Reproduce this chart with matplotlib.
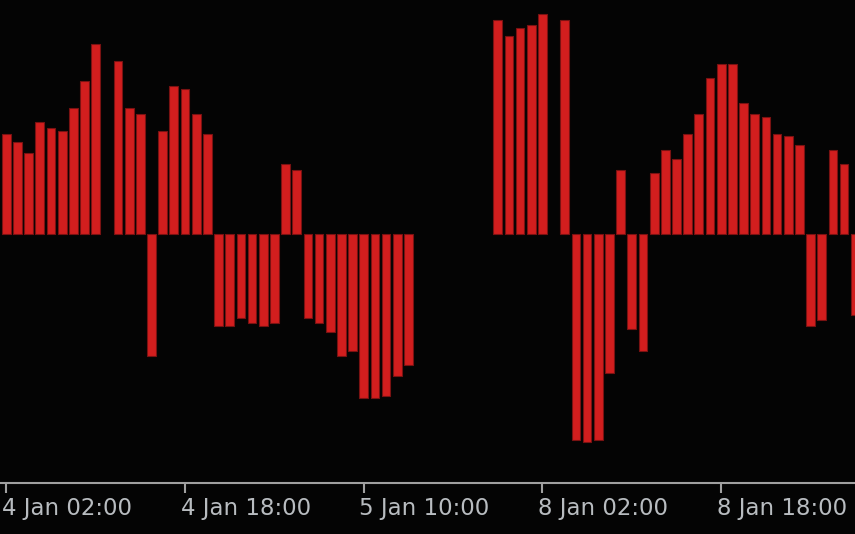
#!/usr/bin/env python3
"""Histogram-style oscillator bars on a dark terminal chart."""

import matplotlib

matplotlib.use("Agg")
import matplotlib.pyplot as plt
import numpy as np

PLOT_NAME = "out.png"

nan = float("nan")

# one value per hourly bar (nan = no bar drawn)
values = [
    1.00, 0.915, 0.81, 1.115, 1.055, 1.03, 1.255, 1.53, 1.895, nan,
    1.73, 1.255, 1.195, -1.225, 1.03, 1.475, 1.45, 1.195, 1.00, -0.92,
    -0.92, -0.84, -0.89, -0.92, -0.89, 0.695, 0.64, -0.84, -0.89, -0.98,
    -1.225, -1.17, -1.645, -1.645, -1.62, -1.425, -1.31, nan, nan, nan,
    nan, nan, nan, nan, 2.14, 1.975, 2.06, 2.09, 2.20, nan,
    2.14, -2.065, -2.09, -2.065, -1.39, 0.64, -0.95, -1.17, 0.61, 0.835,
    0.75, 1.00, 1.195, 1.555, 1.695, 1.695, 1.31, 1.195, 1.17, 1.00,
    0.975, 0.89, -0.92, -0.865, 0.835, 0.695, -0.81,
]

tick_positions = [0, 16, 32, 48, 64]
tick_labels = ["4 Jan 02:00", "4 Jan 18:00", "5 Jan 10:00", "8 Jan 02:00", "8 Jan 18:00"]

BG = "#040404"
BAR = "#d21e1e"
EDGE = "#7a1212"
AXIS = "#a0a0a0"
TEXT = "#b8bcc0"


def main() -> None:
    fig = plt.figure(figsize=(8.55, 5.34), dpi=100, facecolor=BG)
    ax = fig.add_axes([0, 51 / 534, 1, 483 / 534], facecolor=BG)

    x = np.arange(len(values))
    y = np.array(values, dtype=float)
    keep = ~np.isnan(y)
    ax.bar(x[keep], y[keep], width=0.78, color=BAR, edgecolor=EDGE, linewidth=0.8)

    ax.set_xlim(-0.564, 75.98)
    ax.set_ylim(-2.495, 2.335)

    for side in ("top", "left", "right"):
        ax.spines[side].set_visible(False)
    ax.spines["bottom"].set_color(AXIS)
    ax.spines["bottom"].set_linewidth(1.5)

    ax.set_yticks([])
    ax.set_xticks(tick_positions)
    ax.set_xticklabels([])
    ax.tick_params(axis="x", direction="out", length=7, width=1.5, color=AXIS)

    for pos, label in zip(tick_positions, tick_labels):
        ax.text(pos - 0.4, -0.03, label, transform=ax.get_xaxis_transform(),
                ha="left", va="top", color=TEXT, fontsize=16.5,
                family="DejaVu Sans")

    fig.savefig(PLOT_NAME, dpi=100, facecolor=BG)
    plt.close(fig)


if __name__ == "__main__":
    main()
